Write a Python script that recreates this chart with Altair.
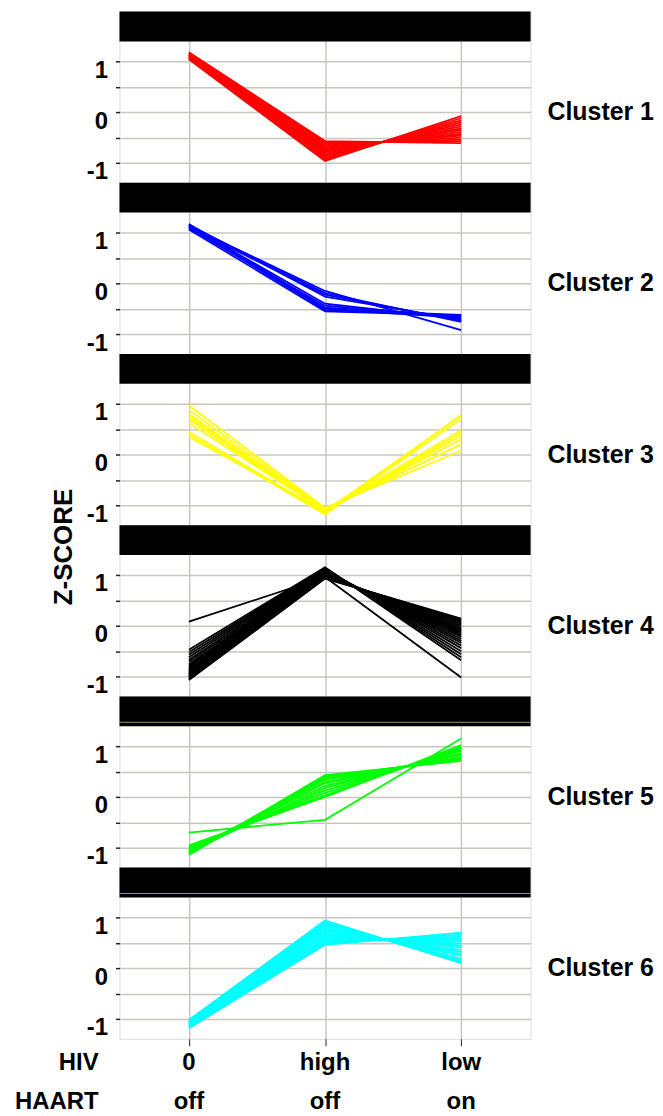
import altair as alt
import pandas as pd

# ---------------- data ----------------
conditions = [0, 1, 2]
hiv_labels = ["0", "high", "low"]
haart_labels = ["off", "off", "on"]
row_labels = ["HIV", "HAART"]
cluster_names = ["Cluster 1", "Cluster 2", "Cluster 3", "Cluster 4", "Cluster 5", "Cluster 6"]
cluster_colors = ["#ff0000", "#0000ff", "#ffff00", "#000000", "#00ff00", "#00ffff"]
y_tick_values = [-1, -0.5, 0, 0.5, 1]

# z-scores per gene at (HIV 0 / HAART off), (HIV high / off), (HIV low / on)
c1_zero = [1.18, 1.17, 1.16, 1.15, 1.14, 1.13, 1.12, 1.11, 1.10, 1.09, 1.08, 1.07, 1.06, 1.05, 1.04]
c1_high = [-0.57, -0.60, -0.62, -0.65, -0.68, -0.70, -0.73, -0.76, -0.78, -0.81, -0.84, -0.87, -0.90, -0.93, -0.96]
c1_low = [-0.61, -0.57, -0.54, -0.50, -0.46, -0.43, -0.39, -0.35, -0.32, -0.28, -0.24, -0.20, -0.16, -0.12, -0.08]

c2_zero = [1.12, 1.14, 1.10, 1.16, 1.13, 1.08, 1.15, 1.11, 1.06, 1.17]
c2_high = [-0.15, -0.19, -0.22, -0.26, -0.40, -0.44, -0.48, -0.52, -0.55, -0.50]
c2_low = [-0.92, -0.76, -0.74, -0.72, -0.70, -0.66, -0.64, -0.62, -0.63, -0.68]

c3_zero = [0.97, 0.88, 0.80, 0.75, 0.70, 0.62, 0.45, 0.40, 0.35]
c3_high = [-1.05, -1.08, -1.10, -1.12, -1.13, -1.10, -1.15, -1.18, -1.12]
c3_low = [0.08, 0.20, 0.30, 0.37, 0.43, 0.48, 0.70, 0.78, 0.77]

c4_zero = [-1.07, -1.05, -1.04, -1.02, -1.01, -0.99, -0.98, -0.96, -0.95, -0.93, -0.92, -0.90,
           -0.88, -0.86, -0.84, -0.81, -0.78, -0.75, -0.71, -0.67, -0.62, -0.57, -0.52, -0.47, 0.08]
c4_high = [0.93, 0.94, 0.95, 0.96, 0.97, 0.98, 0.99, 1.00, 1.01, 1.02, 1.02, 1.03,
           1.04, 1.05, 1.06, 1.07, 1.08, 1.09, 1.10, 1.11, 1.12, 1.13, 1.14, 1.15, 0.96]
c4_low = [0.14, 0.11, 0.09, 0.06, 0.04, 0.01, -0.01, -0.04, -0.06, -0.09, -0.10, -0.13,
          -0.16, -0.19, -0.22, -0.26, -0.30, -0.34, -0.39, -0.44, -0.50, -0.56, -0.62, -0.68, -1.02]

c5_zero = [-1.14, -1.12, -1.10, -1.08, -1.10, -1.06, -1.04, -1.08, -1.02, -1.00, -0.98, -0.95, -0.70]
c5_high = [0.43, 0.40, 0.37, 0.34, 0.30, 0.27, 0.22, 0.18, 0.13, 0.08, 0.03, 0.00, -0.45]
c5_low = [0.71, 0.74, 0.76, 0.78, 0.82, 0.83, 0.86, 0.90, 0.92, 0.95, 0.98, 1.02, 1.15]

c6_zero = [-1.02, -1.03, -1.04, -1.05, -1.06, -1.07, -1.08, -1.09, -1.10, -1.11, -1.12, -1.13, -1.14, -1.15, -1.16, -1.18]
c6_high = [0.94, 0.91, 0.88, 0.85, 0.82, 0.78, 0.75, 0.72, 0.68, 0.65, 0.62, 0.58, 0.55, 0.52, 0.49, 0.46]
c6_low = [0.10, 0.12, 0.15, 0.19, 0.24, 0.28, 0.32, 0.36, 0.41, 0.45, 0.49, 0.54, 0.58, 0.62, 0.66, 0.70]

clusters = [
    (c1_zero, c1_high, c1_low),
    (c2_zero, c2_high, c2_low),
    (c3_zero, c3_high, c3_low),
    (c4_zero, c4_high, c4_low),
    (c5_zero, c5_high, c5_low),
    (c6_zero, c6_high, c6_low),
]

# ---------------- styling ----------------
W, H = 413, 172
BAR = 30
GRID = "#c9c6bf"
FONT = "Liberation Sans"


def long_frame(series):
    rows = []
    for col, vals in zip(conditions, series):
        for g, v in enumerate(vals):
            rows.append({"gene": g, "x": col, "z": v})
    return pd.DataFrame(rows)


def panel(i):
    bottom = i == len(clusters) - 1
    df = long_frame(clusters[i])
    xscale = alt.Scale(domain=[-0.51, 2.51], nice=False, zero=False)
    yscale = alt.Scale(domain=[-1.39, 1.98], nice=False, zero=False)

    lines = alt.Chart(df).mark_line(strokeWidth=1.8, color=cluster_colors[i]).encode(
        x=alt.X("x:Q", scale=xscale, axis=alt.Axis(
            values=conditions, grid=True, gridColor=GRID, gridWidth=1.5,
            labels=False, ticks=bottom, tickSize=7, tickColor="#222", tickWidth=1,
            domain=False, title=None)),
        y=alt.Y("z:Q", scale=yscale, axis=alt.Axis(
            values=y_tick_values, grid=True, gridColor=GRID, gridWidth=1.5,
            labelExpr="datum.value % 1 == 0 ? toString(datum.value) : ''",
            labelFont=FONT, labelFontSize=24, labelFontWeight="bold", labelColor="black",
            labelBaseline="top", labelOffset=-3, labelPadding=8,
            ticks=True, tickSize=4, tickColor="#222", tickWidth=1.5,
            domain=False, title=None)),
        detail="gene:N",
    )

    bar = alt.Chart(pd.DataFrame({"k": [0]})).mark_rect(color="black").encode(
        x=alt.value(0), x2=alt.value(W), y=alt.value(0), y2=alt.value(BAR))

    label = alt.Chart(pd.DataFrame({"name": [cluster_names[i]], "z": [0]})).mark_text(
        align="left", baseline="middle", font=FONT, fontSize=25, fontWeight="bold", color="black"
    ).encode(x=alt.value(W + 17), y=alt.Y("z:Q", scale=yscale), text="name:N")

    layers = [lines, bar, label]

    if i >= 4:
        olive = alt.Chart(pd.DataFrame({"k": [0]})).mark_rule(color="#9d9668", strokeWidth=1).encode(
            x=alt.value(0), x2=alt.value(W), y=alt.value(BAR - 4))
        layers.append(olive)

    if i == 3:
        zlab = alt.Chart(pd.DataFrame({"t": ["Z-SCORE"]})).mark_text(
            angle=270, align="center", baseline="middle", font=FONT, fontSize=26,
            fontWeight="bold", color="black"
        ).encode(x=alt.value(-56), y=alt.value(22), text="t:N")
        layers.append(zlab)

    if bottom:
        cond_df = pd.DataFrame({"x": conditions, "hiv": hiv_labels, "haart": haart_labels})
        t1 = alt.Chart(cond_df).mark_text(
            align="center", baseline="alphabetic", font=FONT, fontSize=24, fontWeight="bold", color="black"
        ).encode(x=alt.X("x:Q", scale=xscale), y=alt.value(H + 31), text="hiv:N")
        t2 = alt.Chart(cond_df).mark_text(
            align="center", baseline="alphabetic", font=FONT, fontSize=24, fontWeight="bold", color="black"
        ).encode(x=alt.X("x:Q", scale=xscale), y=alt.value(H + 71), text="haart:N")
        row_df = pd.DataFrame({"r": row_labels})
        r1 = alt.Chart(row_df.iloc[[0]]).mark_text(
            align="right", baseline="alphabetic", font=FONT, fontSize=24, fontWeight="bold", color="black"
        ).encode(x=alt.value(-21), y=alt.value(H + 31), text="r:N")
        r2 = alt.Chart(row_df.iloc[[1]]).mark_text(
            align="right", baseline="alphabetic", font=FONT, fontSize=24, fontWeight="bold", color="black"
        ).encode(x=alt.value(-21), y=alt.value(H + 71), text="r:N")
        layers += [t1, t2, r1, r2]

    return alt.layer(*layers).properties(width=W, height=H)


chart = alt.vconcat(*[panel(i) for i in range(len(clusters))], spacing=0, bounds="flush").properties(
    padding={"left": 6, "top": 0, "right": 0, "bottom": 0}
).configure_view(stroke="#333", strokeWidth=1).configure(background="white")

chart.save("out.html", embed_options={"renderer": "svg", "actions": False})
